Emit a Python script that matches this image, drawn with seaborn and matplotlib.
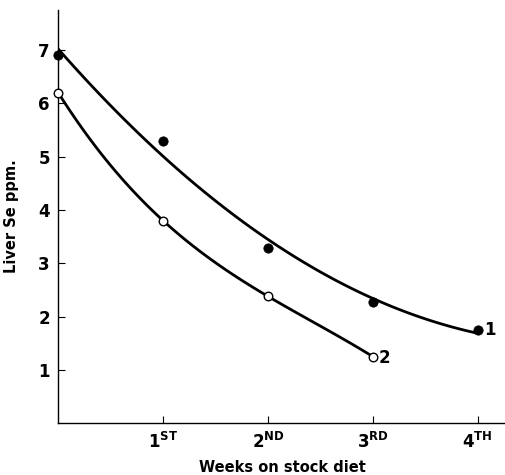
import numpy as np
import pandas as pd
import seaborn as sns
import matplotlib.pyplot as plt

# liver Se (ppm)
weeks_1 = [0, 1, 2, 3, 4]
se_1 = [6.9, 5.3, 3.28, 2.27, 1.75]
weeks_2 = [0, 1, 2, 3]
se_2 = [6.2, 3.8, 2.38, 1.25]

week_ticks = [1, 2, 3, 4]
week_labels = [r'$\mathbf{1^{ST}}$', r'$\mathbf{2^{ND}}$', r'$\mathbf{3^{RD}}$', r'$\mathbf{4^{TH}}$']
se_ticks = [1, 2, 3, 4, 5, 6, 7]

df1 = pd.DataFrame({'week': weeks_1, 'se': se_1})
df2 = pd.DataFrame({'week': weeks_2, 'se': se_2})

sns.set_style('ticks')
plt.rcParams['font.family'] = ['DejaVu Sans']
plt.rcParams['mathtext.fontset'] = 'dejavusans'
plt.rcParams['text.color'] = 'black'
plt.rcParams['axes.labelcolor'] = 'black'
plt.rcParams['xtick.color'] = 'black'
plt.rcParams['ytick.color'] = 'black'

fig = plt.figure(figsize=(5.06, 4.75), dpi=100)
ax = fig.add_axes([0.115, 0.109, 0.885, 0.87])

# smooth curves through the points
sns.regplot(data=df1, x='week', y='se', order=2, ci=None, scatter=False,
            line_kws={'color': 'black', 'lw': 2.0}, ax=ax)
sns.regplot(data=df2, x='week', y='se', order=3, ci=None, scatter=False,
            line_kws={'color': 'black', 'lw': 2.0}, ax=ax)
sns.scatterplot(data=df1, x='week', y='se', s=45, color='black',
                edgecolor='black', zorder=5, clip_on=False, ax=ax)
sns.scatterplot(data=df2, x='week', y='se', s=38, facecolor='white',
                edgecolor='black', linewidth=1.0, zorder=5, clip_on=False, ax=ax)

ax.annotate('1', (weeks_1[-1], se_1[-1]), xytext=(5, 0), textcoords='offset points',
            va='center', ha='left', fontsize=12, fontweight='bold')
ax.annotate('2', (weeks_2[-1], se_2[-1]), xytext=(4, -1), textcoords='offset points',
            va='center', ha='left', fontsize=12, fontweight='bold')

ax.set_xlim(0, 4.27)
ax.set_ylim(0, 7.75)
ax.set_xticks(week_ticks)
ax.set_xticklabels(week_labels, fontsize=12)
ax.set_yticks(se_ticks)
ax.set_yticklabels([str(v) for v in se_ticks], fontsize=12, fontweight='bold')
ax.tick_params(direction='in', length=5, width=0.8, color='black', pad=6)

ax.set_xlabel('Weeks on stock diet', fontsize=10.5, fontweight='bold')
ax.xaxis.set_label_coords(0.5, -0.088)
ax.set_ylabel('Liver Se ppm.', fontsize=10.5, fontweight='bold', labelpad=14)

sns.despine(ax=ax)
for s in ['left', 'bottom']:
    ax.spines[s].set_linewidth(1.0)
    ax.spines[s].set_color('black')

fig.savefig('out.png', dpi=100)
